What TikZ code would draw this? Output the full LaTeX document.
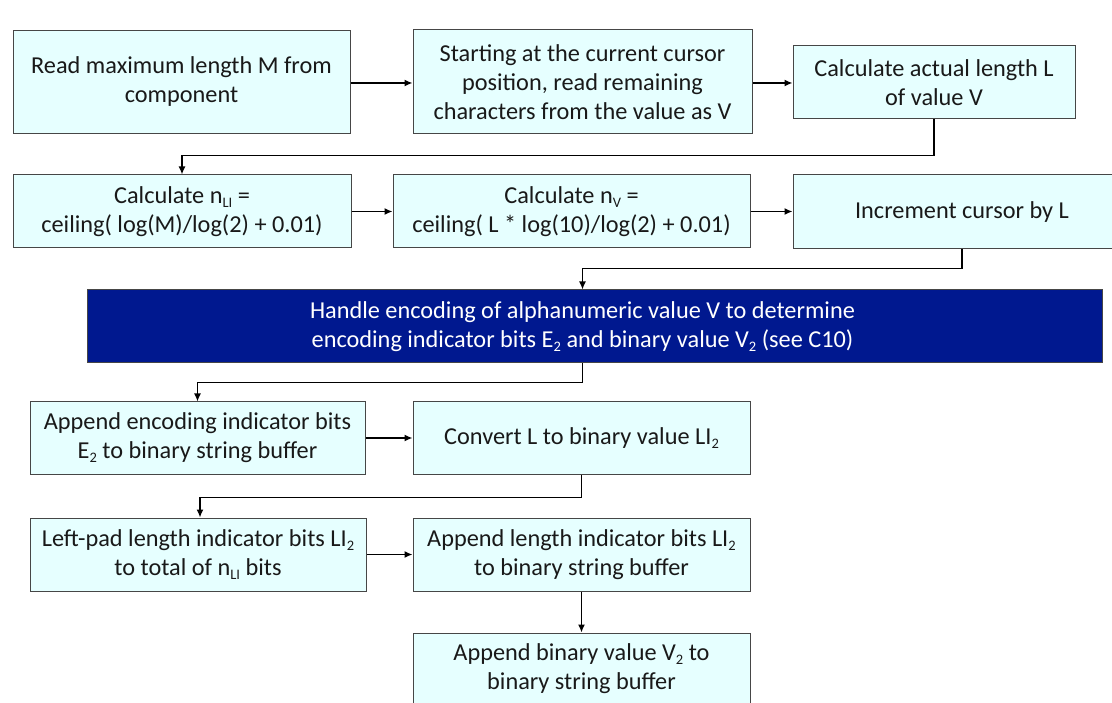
\documentclass[tikz,border=0pt]{standalone}
\usepackage{fontspec}
\setmainfont{Carlito}
\usetikzlibrary{arrows.meta}
\definecolor{boxfill}{RGB}{230,255,255}
\definecolor{boxline}{RGB}{70,70,70}
\definecolor{darkblue}{RGB}{0,24,143}
\newcommand\sbs[1]{\raisebox{-4pt}{\fontsize{14.5}{14.5}\selectfont #1}}
\begin{document}
\tikzset{
  stepbox/.style={draw=boxline, line width=1pt, fill=boxfill, align=center,
    font=\fontsize{24.3}{29}\selectfont, inner sep=0pt, text=black!90},
  bluebox/.style={stepbox, fill=darkblue, text=white},
  arr/.style={line width=1.4pt, -{Latex[length=8pt,width=7pt]}},
}
\begin{tikzpicture}[x=1pt,y=-1pt]
\useasboundingbox (0,0) rectangle (1112,703);
\clip (0,0) rectangle (1112,703);
\fill[white] (0,0) rectangle (1112,703);

\node[stepbox, minimum width=337pt, minimum height=103pt] (A) at (181.5,82.5)
  {\raisebox{-5pt}{\begin{tabular}{@{}c@{}}Read maximum length M from\\component\end{tabular}}};
\node[stepbox, minimum width=339pt, minimum height=104pt] (B) at (582.5,82)
  {Starting at the current cursor\\position, read remaining\\characters from the value as V};
\node[stepbox, minimum width=282pt, minimum height=73pt] (C) at (934,82.5)
  {Calculate actual length L\\of value V};

\node[stepbox, minimum width=338pt, minimum height=73pt] (D) at (182,211.5)
  {Calculate n\sbs{LI} =\\ceiling( log(M)/log(2) + 0.01)};
\node[stepbox, minimum width=357pt, minimum height=73pt] (E) at (571.5,211.5)
  {Calculate n\sbs{V} =\\ceiling( L * log(10)/log(2) + 0.01)};
\node[stepbox, minimum width=338pt, minimum height=74pt] (F) at (962,212)
  {Increment cursor by L};

\node[bluebox, minimum width=1015pt, minimum height=73pt] (G) at (594.5,326.5)
  {Handle encoding of alphanumeric value V to determine\hspace*{24pt}\\
   encoding indicator bits E\sbs{2} and binary value V\sbs{2} (see C10)\hspace*{24pt}};

\node[stepbox, minimum width=335pt, minimum height=72pt] (H) at (197.5,438)
  {Append encoding indicator bits\\E\sbs{2} to binary string buffer};
\node[stepbox, minimum width=337pt, minimum height=72pt] (I) at (581.5,438)
  {Convert L to binary value LI\sbs{2}};

\node[stepbox, minimum width=336pt, minimum height=73pt] (J) at (198,554.5)
  {Left-pad length indicator bits LI\sbs{2}\\to total of n\sbs{LI} bits};
\node[stepbox, minimum width=337pt, minimum height=73pt] (K) at (581.5,554.5)
  {Append length indicator bits LI\sbs{2}\\to binary string buffer};

\node[stepbox, minimum width=337pt, minimum height=72pt] (L) at (581.5,669)
  {Append binary value V\sbs{2} to\\binary string buffer};

\draw[arr] (A.east |- 0,83) -- (B.west |- 0,83);
\draw[arr] (B.east |- 0,83) -- (C.west |- 0,83);
\draw[arr] (C.south) -- ++(0,36) -| (D.north);
\draw[arr] (D.east) -- (E.west);
\draw[arr] (E.east) -- (F.west |- E.east);
\draw[arr] (F.south) -- ++(0,19) -| ([xshift=-12pt]G.north);
\draw[arr] ([xshift=-12pt]G.south) -- ++(0,19) -| (H.north);
\draw[arr] (H.east) -- (I.west);
\draw[arr] (I.south) -- ++(0,23) -| ([xshift=2pt]J.north);
\draw[arr] (J.east) -- (K.west);
\draw[arr] (K.south) -- (L.north);
\end{tikzpicture}
\end{document}
